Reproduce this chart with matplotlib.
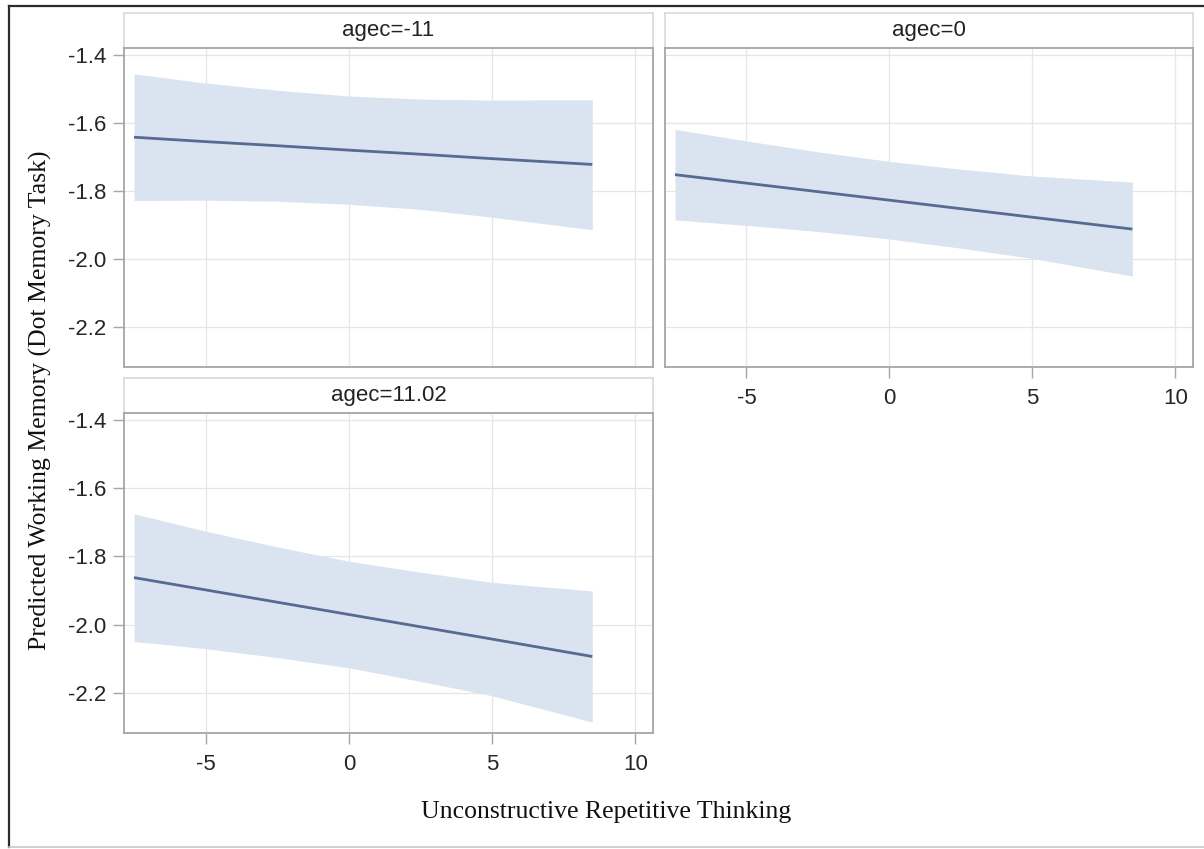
import matplotlib
matplotlib.use("Agg")
import matplotlib.pyplot as plt
from matplotlib.lines import Line2D

plt.rcParams["axes.unicode_minus"] = False

# values
x_vals = [-7.5, -5, -2.5, 0, 2.5, 5, 8.5]
panel_titles = ["agec=-11", "agec=0", "agec=11.02"]

fit_m11 = [-1.642, -1.655, -1.667, -1.680, -1.692, -1.705, -1.722]
upper_m11 = [-1.456, -1.483, -1.504, -1.521, -1.530, -1.533, -1.532]
lower_m11 = [-1.828, -1.827, -1.830, -1.839, -1.854, -1.877, -1.914]

fit_0 = [-1.752, -1.777, -1.802, -1.827, -1.852, -1.877, -1.912]
upper_0 = [-1.619, -1.653, -1.685, -1.713, -1.736, -1.756, -1.774]
lower_0 = [-1.885, -1.901, -1.919, -1.941, -1.968, -1.998, -2.050]

fit_11 = [-1.862, -1.898, -1.934, -1.970, -2.006, -2.042, -2.093]
upper_11 = [-1.675, -1.726, -1.772, -1.814, -1.846, -1.876, -1.901]
lower_11 = [-2.049, -2.070, -2.096, -2.126, -2.166, -2.208, -2.285]

x_ticks = [-5, 0, 5, 10]
y_ticks = [-2.2, -2.0, -1.8, -1.6, -1.4]
x_label = "Unconstructive Repetitive Thinking"
y_label = "Predicted Working Memory (Dot Memory Task)"

W, H = 1204, 849
fig = plt.figure(figsize=(W / 100, H / 100), dpi=100)
fig.patch.set_facecolor("white")


def rect(x0, y0, x1, y1):
    return [x0 / W, 1 - y1 / H, (x1 - x0) / W, (y1 - y0) / H]


# outer frame
fig.add_artist(Line2D([9 / W, 9 / W], [1 - 6 / H, 1 - 847 / H], color="#2b2b2b", lw=1.6))
fig.add_artist(Line2D([9 / W, 1.0], [1 - 6 / H, 1 - 6 / H], color="#2b2b2b", lw=1.6))
fig.add_artist(Line2D([9 / W, 1.0], [1 - 847 / H, 1 - 847 / H], color="#c8c8c8", lw=1.2))

band_color = "#dae4f1"
line_color = "#566a92"
spine_color = "#a6a6a6"
sans = ["Liberation Sans", "DejaVu Sans"]
serif = ["Liberation Serif", "DejaVu Serif"]

panels = [
    (fit_m11, upper_m11, lower_m11, (124, 48, 653, 367), True, False),
    (fit_0, upper_0, lower_0, (665, 48, 1193, 367), False, True),
    (fit_11, upper_11, lower_11, (124, 413, 653, 733), True, True),
]

for (fit, up, lo, (x0, y0, x1, y1), show_y, show_x), title in zip(panels, panel_titles):
    # header strip
    sax = fig.add_axes(rect(x0, y0 - 35, x1, y0))
    sax.set_xticks([])
    sax.set_yticks([])
    sax.set_facecolor("white")
    for s in sax.spines.values():
        s.set_color("#d9d9d9")
        s.set_linewidth(1.2)
    sax.text(0.5, 0.5, title, ha="center", va="center", fontsize=16,
             family=sans, color="#222222", transform=sax.transAxes)

    ax = fig.add_axes(rect(x0, y0, x1, y1))
    ax.fill_between(x_vals, lo, up, color=band_color, lw=0)
    ax.plot(x_vals, fit, color=line_color, lw=2.0, solid_capstyle="butt")
    ax.set_xlim(-7.85, 10.62)
    ax.set_ylim(-2.317, -1.38)
    ax.set_xticks(x_ticks)
    ax.set_yticks(y_ticks)
    ax.set_yticklabels([f"{v:.1f}" for v in y_ticks])
    ax.grid(True, color="#e6e6e6", lw=0.9)
    ax.set_axisbelow(True)
    for s in ax.spines.values():
        s.set_color(spine_color)
        s.set_linewidth(1.3)
    ax.tick_params(axis="both", length=8, width=1.0, color=spine_color,
                   labelsize=16, labelcolor="#262626", pad=5)
    ax.tick_params(axis="x", pad=7)
    ax.tick_params(left=show_y, labelleft=show_y, bottom=show_x, labelbottom=show_x)
    for lab in ax.get_xticklabels() + ax.get_yticklabels():
        lab.set_family(sans)

fig.text(606 / W, 1 - 812 / H, x_label, ha="center", va="center",
         fontsize=18.5, family=serif, color="#111111")
fig.text(40 / W, 1 - 400 / H, y_label, ha="center", va="center", rotation=90,
         fontsize=18.5, family=serif, color="#111111")

fig.savefig("out.png", dpi=100)
